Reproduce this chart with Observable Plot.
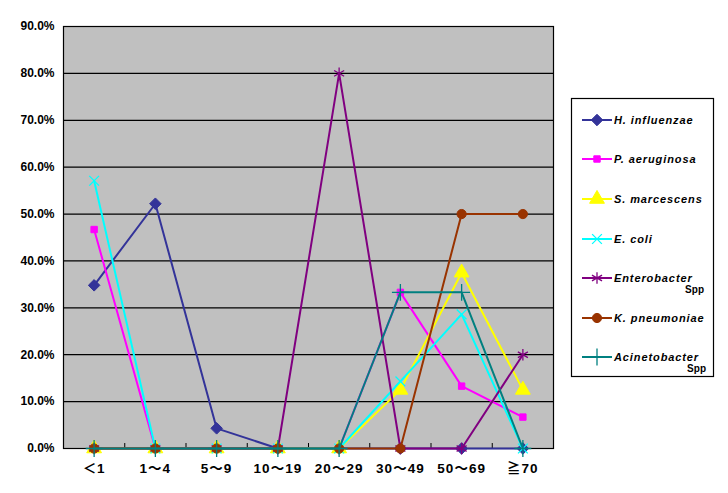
<!DOCTYPE html>
<html>
<head>
<meta charset="utf-8">
<script src="https://cdn.jsdelivr.net/npm/d3@7"></script>
<script src="https://cdn.jsdelivr.net/npm/@observablehq/plot@0.6"></script>
<style>
  html, body { margin: 0; padding: 0; background: #fff; }
  #wrap { position: relative; width: 728px; height: 493px; overflow: hidden; }
  #legend { position: absolute; left: 0; top: 0; }
  .xlab text { letter-spacing: 1px; }
</style>
</head>
<body>
<div id="wrap"></div>
<script>
// ---- data ----
const categories = ["＜1", "1～4", "5～9", "10～19", "20～29", "30～49", "50～69", "≧70"];
const seriesNames = ["H. influenzae", "P. aeruginosa", "S. marcescens", "E. coli", "Enterobacter Spp", "K. pneumoniae", "Acinetobacter Spp"];
const hInfluenzae   = [34.8, 52.2, 4.3, 0, 0, 0, 0, 0];
const pAeruginosa   = [46.7, 0, 0, 0, 0, 33.3, 13.3, 6.7];
const sMarcescens   = [0, 0, 0, 0, 0, 12.5, 37.5, 12.5];
const eColi         = [57.1, 0, 0, 0, 0, 14.3, 28.6, 0];
const enterobacter  = [0, 0, 0, 0, 80.0, 0, 0, 20.0];
const kPneumoniae   = [0, 0, 0, 0, 0, 0, 50.0, 50.0];
const acinetobacter = [0, 0, 0, 0, 0, 33.3, 33.3, 0];
const yTicks = [0, 10, 20, 30, 40, 50, 60, 70, 80, 90];

const seriesValues = [hInfluenzae, pAeruginosa, sMarcescens, eColi, enterobacter, kPneumoniae, acinetobacter];

// ---- styles ----
const colors  = ["#333399", "#FF00FF", "#FFFF00", "#00FFFF", "#800080", "#993300", "#008080"];
const symbols = ["diamond2", "square", "triangle", "times", "asterisk", "circle", "plus"];
const filled  = [true, true, true, false, false, true, false];
const radii   = [5.2, 3.6, 5.5, 4.5, 5.5, 4.6, 5.5];

const rows = [];
seriesNames.forEach((s, si) => {
  seriesValues[si].forEach((v, i) => rows.push({series: s, si, i, cat: categories[i], value: v}));
});

const font = "'Liberation Sans', 'Noto Sans CJK JP', sans-serif";
const marks = [
  Plot.frame({fill: "#C0C0C0", stroke: null}),
  Plot.gridY(yTicks.slice(1), {stroke: "black", strokeOpacity: 1, strokeWidth: 1.2}),
  Plot.axisY(yTicks, {tickSize: 0, tickPadding: 9, tickFormat: d => d.toFixed(1) + "%",
    fontSize: 12, fontWeight: "bold", fill: "black", label: null}),
  Plot.axisX(d3.range(0, categories.length + 1), {tickSize: 5, dy: -5, tickFormat: () => "", stroke: "black", label: null}),
  Plot.text(categories, {x: (d, i) => i + 0.5, y: 0, dy: 20, text: d => d,
    fontSize: 13.5, fontWeight: "bold", fill: "black", className: "xlab"}),
  Plot.frame({stroke: "black", strokeWidth: 1.2})
];
seriesNames.forEach((s, si) => {
  const d = rows.filter(r => r.si === si);
  marks.push(Plot.line(d, {x: r => r.i + 0.5, y: "value", stroke: colors[si], strokeWidth: 2}));
  marks.push(Plot.dot(d, {x: r => r.i + 0.5, y: "value", symbol: () => symbols[si],
    r: radii[si],
    fill: filled[si] ? colors[si] : "none",
    stroke: colors[si], strokeWidth: filled[si] ? 1 : 1.3}));
});

const chart = Plot.plot({
  width: 728, height: 493,
  marginLeft: 63, marginRight: 175, marginTop: 26, marginBottom: 45,
  style: {fontFamily: font, background: "white", overflow: "visible"},
  x: {domain: [0, categories.length], axis: null},
  y: {domain: [0, 90], axis: null},
  symbol: {type: "identity"},
  marks
});
document.getElementById("wrap").appendChild(chart);

// ---- legend ----
const lg = d3.select("#wrap").append("svg")
  .attr("id", "legend").attr("width", 728).attr("height", 493)
  .style("font-family", font);
lg.append("rect").attr("x", 571.5).attr("y", 98.5).attr("width", 142).attr("height", 278)
  .attr("fill", "white").attr("stroke", "black").attr("stroke-width", 1.2);
const itemY = [120, 159, 199, 239, 278, 318, 357];
const d3sym = {diamond2: d3.symbolDiamond2, square: d3.symbolSquare, triangle: d3.symbolTriangle,
  times: d3.symbolTimes, asterisk: d3.symbolAsterisk, circle: d3.symbolCircle, plus: d3.symbolPlus};
seriesNames.forEach((s, si) => {
  const y = itemY[si];
  lg.append("line").attr("x1", 582).attr("x2", 612).attr("y1", y).attr("y2", y)
    .attr("stroke", colors[si]).attr("stroke-width", 2);
  lg.append("path").attr("transform", `translate(597,${y})`)
    .attr("d", d3.symbol(d3sym[symbols[si]], Math.PI * radii[si] * radii[si])())
    .attr("fill", filled[si] ? colors[si] : "none")
    .attr("stroke", colors[si]).attr("stroke-width", filled[si] ? 1 : 1.3);
  const parts = s.split(" Spp");
  lg.append("text").attr("x", 614).attr("y", y).attr("dy", "0.35em")
    .attr("font-size", 11).attr("font-weight", "bold").attr("font-style", "italic")
    .attr("letter-spacing", 0.9).text(parts[0]);
  if (parts.length > 1) {
    lg.append("text").attr("x", 704 + (si === 6 ? 2 : 0)).attr("y", y + 11).attr("dy", "0.35em")
      .attr("text-anchor", "end").attr("font-size", 10).attr("font-weight", "bold")
      .text("Spp");
  }
});
</script>
</body>
</html>
